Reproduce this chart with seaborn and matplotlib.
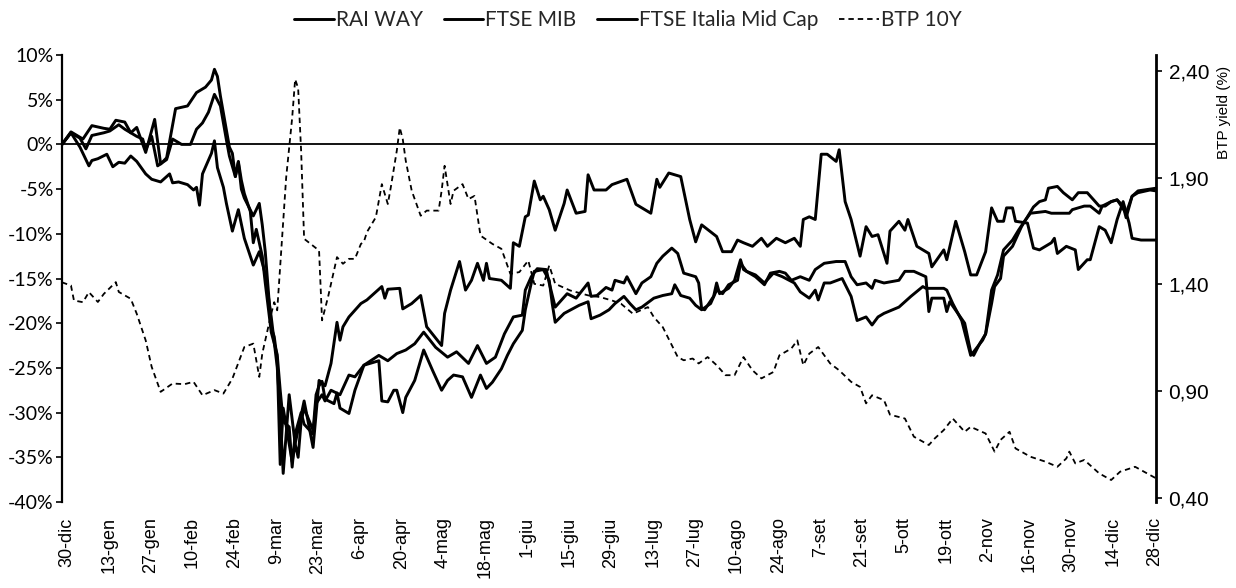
import matplotlib
matplotlib.use("Agg")
import matplotlib.pyplot as plt
import matplotlib.transforms as mtransforms
from matplotlib.lines import Line2D
from matplotlib.ticker import FixedLocator, FuncFormatter
import pandas as pd
import seaborn as sns

# DATI (giorni dal 30-dic-2019, variazione % da inizio anno)
START = pd.Timestamp("2019-12-30")

rai_days = [0, 3, 6, 9, 10, 12, 15, 17, 19, 21,
            23, 25, 28, 30, 33, 36, 37, 39, 42, 44,
            45, 46, 47, 50, 51, 52, 54, 55, 57, 59,
            61, 64, 66, 68, 70, 72, 73, 74, 76, 78,
            81, 84, 86, 88, 90, 92, 93, 94, 96, 100,
            102, 107, 108, 109, 113, 114, 117, 120, 122, 127,
            128, 130, 133, 135, 137, 139, 141, 142, 143, 147,
            150, 151, 153, 155, 156, 158, 160, 161, 163, 165,
            168, 169, 172, 175, 176, 178, 182, 184, 189, 192,
            197, 199, 200, 203, 207, 210, 212, 214, 219, 221,
            224, 226, 228, 231, 234, 236, 239, 242, 245, 247,
            248, 250, 252, 254, 256, 259, 260, 262, 264, 267,
            269, 271, 273, 276, 277, 280, 282, 283, 286, 290,
            291, 295, 296, 299, 302, 304, 306, 309, 311, 313,
            315, 316, 318, 319, 323, 325, 327, 331, 332, 333,
            336, 339, 340, 343, 344, 347, 349, 351, 353, 355,
            357, 358, 361, 366]
rai_vals = [0.0, 1.3, -0.3, -2.4, -1.8, -1.6, -1.1, -2.5, -2.0, -2.1,
            -1.3, -1.9, -3.3, -3.9, -4.2, -3.3, -4.3, -4.2, -4.5, -5.1,
            -4.8, -6.8, -3.3, -1.0, 0.4, -2.6, -4.8, -6.6, -9.7, -7.3,
            -10.5, -13.5, -12.0, -14.5, -19.3, -24.9, -30.0, -36.8, -28.0, -33.5,
            -28.7, -33.9, -26.4, -27.0, -24.5, -19.9, -21.9, -20.4, -19.3, -17.8,
            -17.4, -15.9, -17.2, -16.2, -16.1, -18.4, -17.8, -16.9, -20.4, -22.5,
            -18.9, -16.3, -13.1, -16.3, -15.2, -13.3, -15.2, -13.3, -15.0, -15.2,
            -16.1, -11.0, -11.4, -8.1, -7.9, -4.1, -6.2, -5.8, -7.3, -9.6,
            -6.6, -5.1, -7.7, -7.5, -3.4, -5.1, -5.1, -4.5, -3.9, -6.7,
            -7.7, -3.9, -4.8, -3.2, -3.6, -8.4, -10.9, -9.0, -10.3, -12.0,
            -12.0, -10.7, -11.0, -11.4, -10.5, -11.4, -10.5, -11.0, -10.5, -11.4,
            -8.4, -8.1, -8.4, -1.1, -1.1, -1.9, -0.6, -6.4, -8.4, -12.5,
            -9.2, -10.3, -10.1, -13.3, -9.7, -8.6, -9.6, -8.4, -11.4, -12.2,
            -13.7, -11.8, -12.9, -8.6, -12.0, -14.6, -14.6, -12.0, -7.1, -8.6,
            -8.6, -7.1, -7.1, -8.6, -8.8, -11.6, -11.8, -11.0, -10.5, -12.2,
            -11.4, -11.8, -14.0, -12.9, -12.9, -9.2, -9.6, -11.0, -8.4, -6.4,
            -8.8, -10.5, -10.7, -10.7]

mib_days = [0, 3, 7, 10, 14, 16, 18, 21, 23, 25,
            28, 31, 33, 35, 38, 42, 45, 48, 50, 51,
            52, 53, 56, 57, 58, 59, 60, 61, 64, 66,
            67, 68, 70, 71, 72, 73, 74, 77, 78, 79,
            80, 81, 84, 85, 86, 87, 88, 91, 92, 93,
            96, 98, 101, 106, 107, 109, 111, 112, 114, 115,
            118, 121, 124, 127, 129, 131, 134, 137, 140, 142,
            144, 147, 149, 151, 154, 155, 157, 158, 161, 163,
            164, 165, 168, 173, 176, 177, 180, 183, 185, 188,
            190, 192, 194, 198, 201, 204, 205, 207, 210, 212,
            214, 217, 219, 221, 223, 226, 227, 229, 232, 235,
            238, 241, 245, 247, 250, 252, 253, 255, 257, 261,
            264, 266, 269, 271, 273, 275, 280, 284, 288, 289,
            291, 295, 296, 298, 301, 303, 304, 305, 308, 309,
            311, 312, 314, 315, 318, 321, 323, 325, 327, 329,
            330, 333, 335, 338, 340, 343, 347, 349, 351, 353,
            356, 358, 360, 366]
mib_vals = [0.0, 1.4, 0.6, 2.1, 1.8, 1.7, 2.7, 2.5, 1.3, 1.9,
            -0.9, 2.8, -2.2, -1.5, 4.0, 4.3, 5.8, 6.4, 7.2, 8.4,
            7.6, 5.4, -0.3, -1.0, -3.6, -2.0, -5.0, -6.0, -8.0, -6.6,
            -9.0, -12.0, -20.5, -21.5, -24.0, -35.8, -29.5, -35.5, -33.5, -35.0,
            -31.0, -29.5, -32.0, -28.0, -27.0, -26.5, -28.5, -29.0, -27.8, -29.5,
            -30.1, -27.5, -24.7, -24.2, -28.7, -28.8, -27.5, -27.5, -30.0, -28.3,
            -26.4, -23.0, -25.3, -27.5, -26.4, -25.8, -26.0, -28.3, -25.8, -27.3,
            -26.6, -25.1, -23.6, -22.3, -20.8, -18.5, -15.5, -14.2, -14.0, -15.2,
            -17.8, -19.9, -18.9, -18.0, -17.6, -19.5, -19.1, -18.5, -17.8, -17.0,
            -17.8, -18.5, -18.2, -17.2, -16.9, -16.7, -15.7, -16.9, -17.2, -18.0,
            -18.5, -17.8, -16.3, -16.7, -15.7, -15.2, -13.3, -14.2, -14.6, -15.5,
            -14.4, -14.8, -15.5, -16.5, -17.2, -16.3, -17.4, -15.5, -15.5, -15.0,
            -17.0, -19.7, -19.3, -20.2, -19.3, -18.9, -18.2, -17.0, -15.9, -16.1,
            -16.1, -16.1, -16.3, -17.8, -19.7, -22.3, -23.6, -23.2, -21.9, -21.2,
            -17.8, -15.9, -15.0, -12.5, -11.4, -9.2, -8.1, -7.0, -6.4, -6.2,
            -4.9, -4.7, -5.4, -6.2, -5.4, -5.4, -6.9, -6.9, -6.4, -6.2,
            -7.7, -5.8, -5.2, -4.9]

mid_days = [0, 3, 6, 8, 10, 14, 16, 19, 21, 25,
            27, 28, 30, 32, 35, 37, 40, 43, 45, 47,
            49, 51, 53, 55, 56, 58, 59, 60, 61, 63,
            64, 65, 67, 68, 70, 72, 73, 74, 76, 77,
            78, 80, 81, 84, 85, 87, 88, 90, 93, 96,
            98, 101, 106, 109, 112, 115, 118, 121, 125, 129,
            132, 136, 139, 142, 145, 148, 151, 154, 155, 157,
            159, 162, 163, 165, 169, 172, 176, 177, 179, 182,
            184, 185, 188, 189, 192, 194, 197, 199, 201, 204,
            206, 207, 208, 212, 213, 214, 215, 218, 219, 220,
            223, 225, 227, 228, 232, 235, 237, 240, 242, 244,
            247, 250, 252, 255, 259, 262, 264, 266, 269, 271,
            272, 275, 280, 282, 285, 289, 290, 291, 295, 296,
            297, 302, 304, 305, 307, 309, 311, 313, 315, 318,
            320, 322, 324, 329, 331, 337, 338, 342, 344, 347,
            348, 351, 353, 355, 356, 358, 360, 364, 366]
mid_vals = [0.0, 1.3, 0.7, -0.5, 1.0, 1.3, 1.5, 2.2, 1.7, 0.9,
            0.6, -0.6, 0.9, -2.4, -1.7, 0.6, 0.0, 0.0, 1.7, 2.4,
            3.6, 5.6, 4.3, 0.5, -1.3, -3.6, -1.9, -4.0, -5.5, -7.5,
            -11.0, -9.5, -12.5, -15.5, -21.0, -23.5, -27.5, -31.0, -31.6, -36.1,
            -32.4, -30.0, -31.3, -32.4, -29.0, -28.0, -28.7, -27.5, -28.0, -25.8,
            -26.0, -24.7, -23.6, -24.2, -23.4, -23.0, -22.3, -21.0, -22.7, -23.8,
            -23.2, -24.5, -22.5, -24.5, -23.8, -21.2, -19.3, -19.1, -16.3, -14.8,
            -13.9, -14.0, -15.5, -18.2, -16.7, -17.2, -15.5, -17.0, -16.9, -16.0,
            -16.3, -15.2, -15.5, -14.8, -16.7, -15.5, -14.8, -13.3, -12.5, -11.6,
            -12.2, -13.3, -14.4, -14.8, -15.5, -18.4, -18.5, -17.0, -15.5, -16.7,
            -16.1, -15.2, -12.9, -14.0, -14.8, -15.7, -14.4, -14.2, -14.4, -15.2,
            -14.8, -15.2, -14.0, -13.3, -13.1, -13.1, -14.8, -15.7, -15.5, -16.1,
            -15.2, -15.5, -15.2, -14.2, -14.2, -14.8, -18.7, -17.2, -17.2, -18.7,
            -17.6, -20.0, -23.2, -23.6, -22.3, -21.2, -16.3, -14.6, -11.8, -10.7,
            -9.6, -8.6, -7.7, -7.5, -7.7, -7.7, -7.3, -6.9, -6.9, -7.7,
            -6.9, -6.4, -6.2, -6.9, -8.2, -5.8, -5.4, -5.1, -5.2]

# rendimento BTP 10 anni (%)
btp_days = [0, 3, 4, 7, 9, 12, 14, 18, 19, 23,
            25, 28, 30, 33, 37, 41, 44, 47, 51, 54,
            57, 61, 64, 66, 67, 70, 71, 72, 75, 77,
            78, 79, 80, 81, 86, 87, 89, 92, 94, 96,
            98, 100, 101, 102, 105, 107, 109, 110, 112, 113,
            114, 115, 117, 120, 122, 126, 127, 128, 130, 131,
            134, 136, 138, 140, 144, 147, 150, 153, 156, 158,
            161, 163, 165, 170, 176, 180, 184, 187, 191, 196,
            198, 201, 206, 208, 211, 213, 216, 219, 222, 225,
            228, 231, 234, 238, 240, 244, 246, 248, 250, 253,
            257, 260, 264, 267, 269, 271, 275, 277, 282, 285,
            290, 292, 295, 298, 302, 304, 309, 312, 314, 317,
            319, 324, 329, 333, 336, 337, 339, 342, 347, 351,
            354, 359, 362, 366]
btp_vals = [1.41, 1.395, 1.325, 1.317, 1.364, 1.318, 1.356, 1.411, 1.365, 1.333,
            1.263, 1.138, 1.014, 0.897, 0.936, 0.933, 0.944, 0.881, 0.905, 0.889,
            0.959, 1.107, 1.123, 0.967, 1.076, 1.263, 1.317, 1.279, 1.902, 2.18,
            2.361, 2.32, 2.026, 1.614, 1.559, 1.232, 1.341, 1.528, 1.497, 1.52,
            1.52, 1.59, 1.60, 1.645, 1.715, 1.87, 1.777, 1.855, 2.026, 2.135,
            2.081, 1.98, 1.839, 1.722, 1.746, 1.746, 1.839, 1.956, 1.777, 1.839,
            1.87, 1.80, 1.815, 1.629, 1.59, 1.567, 1.45, 1.458, 1.512, 1.403,
            1.395, 1.489, 1.403, 1.372, 1.349, 1.341, 1.325, 1.31, 1.263, 1.294,
            1.247, 1.20, 1.06, 1.045, 1.053, 1.03, 1.06, 1.022, 0.975, 0.975,
            1.06, 0.998, 0.96, 0.99, 1.068, 1.10, 1.138, 1.022, 1.076, 1.107,
            1.03, 0.998, 0.944, 0.92, 0.843, 0.881, 0.858, 0.79, 0.772, 0.687,
            0.648, 0.679, 0.718, 0.772, 0.71, 0.733, 0.702, 0.617, 0.672, 0.71,
            0.632, 0.593, 0.57, 0.546, 0.585, 0.617, 0.562, 0.578, 0.515, 0.484,
            0.523, 0.546, 0.523, 0.492]

tick_labels = ["30-dic", "13-gen", "27-gen", "10-feb", "24-feb", "9-mar", "23-mar",
               "6-apr", "20-apr", "4-mag", "18-mag", "1-giu", "15-giu", "29-giu",
               "13-lug", "27-lug", "10-ago", "24-ago", "7-set", "21-set", "5-ott",
               "19-ott", "2-nov", "16-nov", "30-nov", "14-dic", "28-dic"]
pct_ticks = [10, 5, 0, -5, -10, -15, -20, -25, -30, -35, -40]
btp_ticks = [2.40, 1.90, 1.40, 0.90, 0.40]
series_names = ["RAI WAY", "FTSE MIB", "FTSE Italia Mid Cap", "BTP 10Y"]

ARIAL = "Liberation Sans"
BTP_DASH = (0, (3, 2.2))


def make_frame(days, vals):
    return pd.DataFrame({"data": START + pd.to_timedelta(days, unit="D"), "valore": vals})


def main():
    sns.set_theme(style="white")
    plt.rcParams["font.family"] = ["Lato", "DejaVu Sans"]

    fig = plt.figure(figsize=(12.36, 5.88), dpi=100)
    ax = fig.add_axes([62 / 1236, 86 / 588, 1094 / 1236, 447 / 588])
    ax2 = ax.twinx()

    # indici e titolo
    for days, vals in ((rai_days, rai_vals), (mib_days, mib_vals), (mid_days, mid_vals)):
        sns.lineplot(data=make_frame(days, vals), x="data", y="valore", ax=ax,
                     color="black", linewidth=2.1, legend=False, zorder=3)
    ax.axhline(0, color="black", linewidth=1.3, zorder=2)

    # BTP sull'asse destro
    sns.lineplot(data=make_frame(btp_days, btp_vals), x="data", y="valore", ax=ax2,
                 color="black", linewidth=1.3, legend=False)
    ax2.lines[-1].set_linestyle(BTP_DASH)

    # asse x
    tick_dates = [START + pd.Timedelta(days=14 * i) for i in range(len(tick_labels))]
    ax.set_xlim(START, START + pd.Timedelta(days=366))
    ax.set_xticks(tick_dates)
    ax.set_xticklabels(tick_labels, rotation=90, fontsize=13, family=ARIAL)
    ax.tick_params(axis="x", bottom=True, length=0, pad=11, colors="black")
    shift = mtransforms.ScaledTranslation(5 / 100, 0, fig.dpi_scale_trans)
    for lbl in ax.get_xticklabels():
        lbl.set_transform(lbl.get_transform() + shift)

    # asse sinistro
    ax.set_ylim(-40, 10)
    ax.yaxis.set_major_locator(FixedLocator(pct_ticks))
    ax.yaxis.set_major_formatter(FuncFormatter(lambda v, p: f"{v:.0f}%"))
    ax.tick_params(axis="y", left=True, length=4, width=1.2, direction="out",
                   labelsize=14, pad=2, colors="black")
    for s in ("top", "right", "bottom"):
        ax.spines[s].set_visible(False)
    ax.spines["left"].set_color("black")
    ax.spines["left"].set_linewidth(1.6)
    ax.set_xlabel("")
    ax.set_ylabel("")

    # asse destro
    ax2.set_ylim(0.381, 2.475)
    ax2.yaxis.set_major_locator(FixedLocator(btp_ticks))
    ax2.yaxis.set_major_formatter(FuncFormatter(lambda v, p: f"{v:.2f}".replace(".", ",")))
    ax2.tick_params(axis="y", right=True, length=4, width=1.2, direction="out",
                    labelsize=15, pad=5, colors="black")
    for lbl in ax2.get_yticklabels():
        lbl.set_family(ARIAL)
    for s in ("top", "left", "bottom"):
        ax2.spines[s].set_visible(False)
    ax2.spines["right"].set_color("black")
    ax2.spines["right"].set_linewidth(2.0)
    ax2.set_xlabel("")
    ax2.set_ylabel("BTP yield (%)", fontsize=11, family=ARIAL, color="black")
    ax2.yaxis.set_label_coords(1.056, 0.872)

    # legenda
    handles = [Line2D([], [], color="black", linewidth=2.1) for _ in range(3)]
    handles.append(Line2D([], [], color="black", linewidth=1.3, linestyle=BTP_DASH))
    fig.legend(handles, series_names, loc="upper center", bbox_to_anchor=(0.508, 0.99),
               ncol=4, frameon=False, prop={"family": "Lato", "size": 15},
               handlelength=1.9, handletextpad=0.1, columnspacing=1.0,
               borderaxespad=0, borderpad=0.2)

    fig.savefig("out.png", dpi=100, facecolor="white")


if __name__ == '__main__':
    main()
